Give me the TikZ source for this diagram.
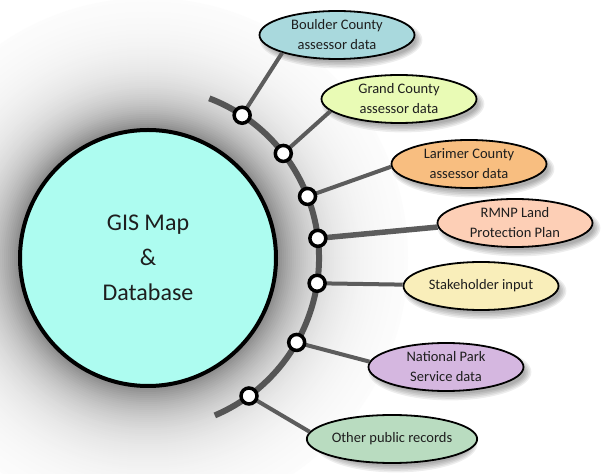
\documentclass[tikz,border=0pt]{standalone}
\usepackage{fontspec}
\setmainfont{Carlito}
\usetikzlibrary{shapes.geometric}
\definecolor{gisfill}{HTML}{ADFCF0}
\definecolor{bouldf}{HTML}{A9D9DD}
\definecolor{grandf}{HTML}{E9FBB5}
\definecolor{larif}{HTML}{F8BE80}
\definecolor{rmnpf}{HTML}{FDCFB6}
\definecolor{stakef}{HTML}{F9EEBA}
\definecolor{npsf}{HTML}{D5B7E0}
\definecolor{otherf}{HTML}{B9DCC0}
\definecolor{linegray}{HTML}{5C5C5C}
\definecolor{arcgray}{HTML}{555555}
\definecolor{txt}{HTML}{1E1E1E}
\begin{document}
\begin{tikzpicture}[x=1pt,y=1pt,
  bubble/.style={ellipse, draw=black, line width=1.8pt, minimum width=155pt,
    minimum height=48pt, inner sep=0pt, align=center,
    font=\fontsize{14.5}{20}\selectfont, text=txt},
  dot/.style={circle, draw=black, fill=white, line width=3.5pt,
    minimum size=16pt, inner sep=0pt},
  conn/.style={draw=linegray, line width=4pt},
  arcline/.style={draw=arcgray, line width=6pt},
  shadowpart/.style={fill=black, opacity=0.07},
  bigc/.style={circle, draw=black, line width=4pt, fill=gisfill,
    minimum size=256pt, inner sep=0pt, align=center,
    font=\fontsize{24}{35}\selectfont, text=txt}]
\useasboundingbox (0,0) rectangle (603,474);
\fill[white] (0,0) rectangle (603,474);
\clip (0,0) rectangle (603,474);
% glow around the main circle
\foreach \r in {260,258,...,130}{
  \pgfmathsetmacro\dk{46*exp(-(\r-130)/36)}
  \fill[black!\dk] (148,216) circle (\r);
}
% ellipse shadows
\foreach \cx/\cy in {337/439, 399/375, 469/310, 515/251, 481/188, 446/107, 392/35}{
  \foreach \k in {0,1,2,3,4}{
    \fill[shadowpart] (\cx+4,\cy-5) ellipse [x radius=75+1.6*\k, y radius=22+1.6*\k];
  }
}
% main circle
\node[bigc] (gis) at (148,216) {GIS Map\\\&\\Database};
% arc
\draw[arcline] (gis.center) ++(69:171) arc[start angle=69, end angle=-67, radius=171];
% ellipses
\node[bubble, fill=bouldf] (e1) at (337,439) {Boulder County\\assessor data};
\node[bubble, fill=grandf] (e2) at (399,375) {Grand County\\assessor data};
\node[bubble, fill=larif]  (e3) at (469,310) {Larimer County\\assessor data};
\node[bubble, fill=rmnpf]  (e4) at (515,251) {RMNP Land\\Protection Plan};
\node[bubble, fill=stakef] (e5) at (481,188) {Stakeholder input};
\node[bubble, fill=npsf]   (e6) at (446,107) {National Park\\Service data};
\node[bubble, fill=otherf] (e7) at (392,35)  {Other public records};
% dots on the arc
\path (gis.center) ++(56.6:171) coordinate (p1);
\path (gis.center) ++(37.7:171) coordinate (p2);
\path (gis.center) ++(21.1:171) coordinate (p3);
\path (gis.center) ++(6.6:171)  coordinate (p4);
\path (gis.center) ++(-8.5:171) coordinate (p5);
\path (gis.center) ++(-29.6:171) coordinate (p6);
\path (gis.center) ++(-53.8:171) coordinate (p7);
% connectors
\draw[conn] (p1) -- (e1.198);
\draw[conn] (p2) -- (e2.190);
\draw[conn] (p3) -- (e3.182);
\draw[conn, line width=5.5pt] (p4) -- (e4.183);
\draw[conn] (p5) -- (e5.179);
\draw[conn] (p6) -- (e6.176);
\draw[conn] (p7) -- (e7.175);
\foreach \i in {1,...,7}{
  \node[dot] (c\i) at (p\i) {};
}
\end{tikzpicture}
\end{document}
